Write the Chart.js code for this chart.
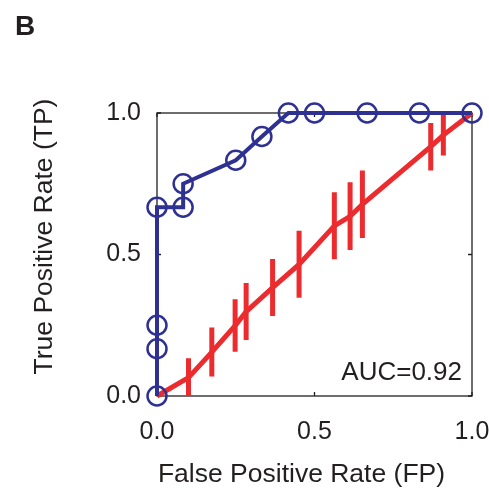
<!DOCTYPE html>
<html>
<head>
<meta charset="utf-8">
<script src="https://cdn.jsdelivr.net/npm/chart.js@4.4.1/dist/chart.umd.min.js"></script>
<style>
  html, body { margin: 0; padding: 0; background: #fff; }
  #wrap { width: 489px; height: 490px; }
</style>
</head>
<body>
<div id="wrap"><canvas id="roc" width="489" height="490"></canvas></div>
<script>
// ── Style ──
const FONT = "'Liberation Sans', Arial, Helvetica, sans-serif";
const INK  = '#231f20';
const BLUE = '#2e3192';
const RED  = '#ec2b2e';

// ── Data: classifier ROC ──
const rocFP = [0, 0, 0, 0, 0.083, 0.083, 0.25, 0.333, 0.417, 0.5, 0.667, 0.833, 1];
const rocTP = [0, 0.167, 0.25, 0.667, 0.667, 0.75, 0.833, 0.917, 1, 1, 1, 1, 1];

// ── Data: shuffled baseline (mean with spread) ──
const randFP = [0, 0.100, 0.174, 0.248, 0.283, 0.367, 0.451, 0.563, 0.613, 0.652, 0.869, 0.909, 1];
const randTP = [0, 0.065, 0.155, 0.249, 0.298, 0.383, 0.465, 0.601, 0.635, 0.677, 0.881, 0.922, 1];
const randLo = [null, 0.000, 0.069, 0.156, 0.198, 0.283, 0.347, 0.483, 0.516, 0.558, 0.797, 0.850, null];
const randHi = [null, 0.133, 0.242, 0.342, 0.399, 0.484, 0.584, 0.720, 0.755, 0.797, 0.965, 0.994, null];

const axisTicks = [0, 0.5, 1];
const aucLabel  = 'AUC=0.92';
const xTitle    = 'False Positive Rate (FP)';
const yTitle    = 'True Positive Rate (TP)';
const panelTag  = 'B';

const toXY = (xs, ys) => xs.map((v, i) => ({ x: v, y: ys[i] }));

// ── Frame, inward ticks, error bars, text ──
const decor = {
  id: 'decor',
  beforeDatasetsDraw(chart) {
    const { ctx, chartArea: a, scales: { x, y } } = chart;
    ctx.save();
    ctx.strokeStyle = INK;
    ctx.lineWidth = 1.3;
    ctx.strokeRect(a.left, a.top, a.width, a.height);
    ctx.beginPath();
    axisTicks.forEach(v => {
      const px = x.getPixelForValue(v), py = y.getPixelForValue(v);
      ctx.moveTo(px, a.bottom); ctx.lineTo(px, a.bottom - 4);
      ctx.moveTo(px, a.top);    ctx.lineTo(px, a.top + 4);
      ctx.moveTo(a.left, py);   ctx.lineTo(a.left + 4, py);
      ctx.moveTo(a.right, py);  ctx.lineTo(a.right - 4, py);
    });
    ctx.stroke();

    ctx.strokeStyle = RED;
    ctx.lineWidth = 5;
    ctx.lineCap = 'butt';
    ctx.beginPath();
    randFP.forEach((v, i) => {
      if (randLo[i] == null) return;
      const px = x.getPixelForValue(v);
      ctx.moveTo(px, y.getPixelForValue(randLo[i]));
      ctx.lineTo(px, y.getPixelForValue(randHi[i]));
    });
    ctx.stroke();
    ctx.restore();
  },
  afterDraw(chart) {
    const { ctx, chartArea: a } = chart;
    ctx.save();
    ctx.fillStyle = INK;
    ctx.textBaseline = 'alphabetic';

    ctx.font = `26px ${FONT}`;
    ctx.textAlign = 'right';
    ctx.fillText(aucLabel, a.right - 10, a.bottom - 16);

    ctx.font = `26.5px ${FONT}`;
    ctx.textAlign = 'center';
    ctx.fillText(xTitle, 301.5, 482);

    ctx.translate(52, 236.5);
    ctx.rotate(-Math.PI / 2);
    ctx.fillText(yTitle, 0, 0);
    ctx.setTransform(1, 0, 0, 1, 0, 0);

    ctx.font = `bold 28px ${FONT}`;
    ctx.textAlign = 'left';
    ctx.fillText(panelTag, 15, 35);
    ctx.restore();
  },
};

function axisOpts(fit) {
  return {
    type: 'linear',
    min: 0,
    max: 1,
    afterBuildTicks: s => { s.ticks = axisTicks.map(v => ({ value: v })); },
    afterFit: s => {
      fit(s);
      s.paddingLeft = s.paddingRight = s.paddingTop = s.paddingBottom = 0;
    },
    ticks: {
      callback: v => v.toFixed(1),
      color: INK,
      font: { family: FONT, size: 25 },
      maxRotation: 0,
      padding: 16,
    },
    grid: { display: false, drawTicks: false },
    border: { display: false },
  };
}

const xAxis = axisOpts(s => { s.height = 94; });
xAxis.ticks.padding = 21;
const yAxis = axisOpts(s => { s.width = 157; });

new Chart(document.getElementById('roc').getContext('2d'), {
  type: 'line',
  data: {
    datasets: [
      {
        label: 'ROC',
        data: toXY(rocFP, rocTP),
        borderColor: BLUE,
        borderWidth: 4,
        pointRadius: 9.5,
        pointBorderWidth: 2.5,
        pointBorderColor: BLUE,
        pointBackgroundColor: 'rgba(0,0,0,0)',
        tension: 0,
        clip: false,
      },
      {
        label: 'Shuffled',
        data: toXY(randFP, randTP),
        borderColor: RED,
        borderWidth: 5,
        pointRadius: 0,
        tension: 0,
        clip: false,
      },
    ],
  },
  options: {
    responsive: false,
    animation: false,
    layout: { padding: { top: 113, right: 17, left: 0, bottom: 0 } },
    plugins: { legend: { display: false }, tooltip: { enabled: false }, title: { display: false } },
    scales: { x: xAxis, y: yAxis },
  },
  plugins: [decor],
});
</script>
</body>
</html>
